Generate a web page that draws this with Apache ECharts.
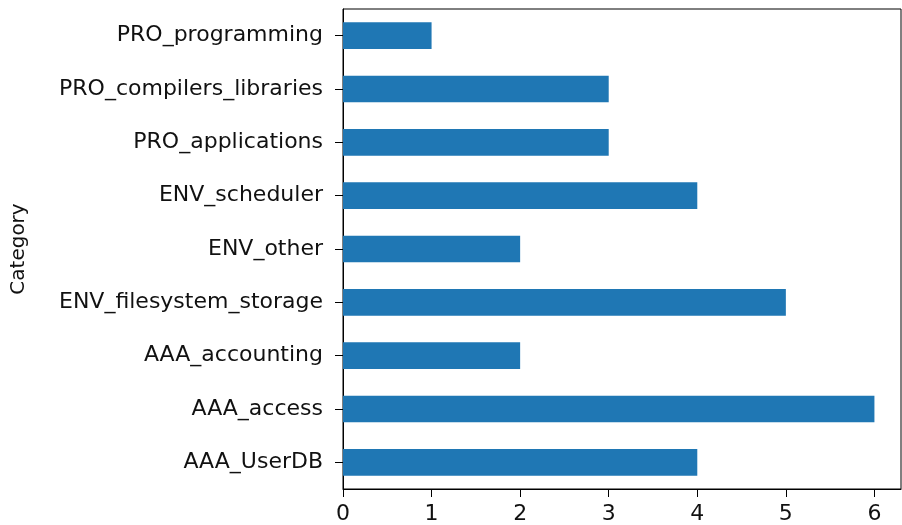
<!DOCTYPE html>
<html lang="en">
<head>
    <meta charset="UTF-8">
    <title>Category counts</title>
    <style>
        html, body { margin: 0; padding: 0; background: #fff; }
        #app { width: 902px; height: 525px; }
    </style>
</head>
<body>
    <div id="app"></div>
</body>
<script src="https://cdn.jsdelivr.net/npm/echarts@6/dist/echarts.min.js"></script>
<script>
    // bottom to top, as the category axis draws them
    var categories = ['AAA_UserDB', 'AAA_access', 'AAA_accounting', 'ENV_filesystem_storage',
        'ENV_other', 'ENV_scheduler', 'PRO_applications', 'PRO_compilers_libraries', 'PRO_programming'];
    var counts = [4, 6, 2, 5, 2, 4, 3, 3, 1];

    var font = 'DejaVu Sans';
    var chart = echarts.init(document.getElementById('app'));
    var option = {
        animation: false,
        grid: {
            left: 343,
            right: 1,
            top: 9,
            bottom: 35,
            show: true,
            borderColor: '#000',
            borderWidth: 1
        },
        xAxis: {
            type: 'value',
            min: 0,
            max: 6.3,
            interval: 1,
            axisLine: { show: true, lineStyle: { color: '#000' } },
            axisTick: { show: true, length: 8, lineStyle: { color: '#000' } },
            axisLabel: { showMaxLabel: false, color: '#111', fontFamily: font, fontSize: 22, margin: 14 },
            splitLine: { show: false }
        },
        yAxis: {
            type: 'category',
            data: categories,
            name: 'Category',
            nameLocation: 'middle',
            nameGap: 314,
            nameTextStyle: { color: '#111', fontFamily: font, fontSize: 20 },
            axisLine: { show: true, lineStyle: { color: '#000' } },
            axisTick: { show: true, alignWithLabel: true, length: 8, lineStyle: { color: '#000' } },
            axisLabel: { color: '#111', fontFamily: font, fontSize: 22, margin: 20 }
        },
        series: [{
            type: 'bar',
            data: counts,
            barWidth: '50%',
            itemStyle: { color: '#1f77b4' }
        }]
    };
    chart.setOption(option);
</script>
</html>
